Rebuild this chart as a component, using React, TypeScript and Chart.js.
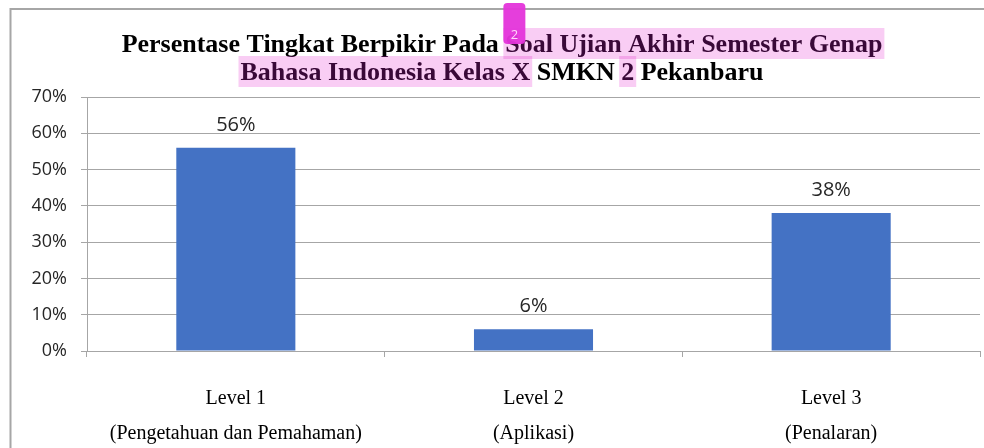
import React, { useEffect, useRef } from "react";
import { Chart, registerables } from "chart.js";

Chart.register(...registerables);

const titleLines = [
  "Persentase Tingkat Berpikir Pada Soal Ujian Akhir Semester Genap",
  "Bahasa Indonesia Kelas X SMKN 2 Pekanbaru",
];
const levels = ["Level 1", "Level 2", "Level 3"];
const levelNames = ["(Pengetahuan dan Pemahaman)", "(Aplikasi)", "(Penalaran)"];
const percentages = [56, 6, 38];
const yMin = 0;
const yMax = 70;
const yStep = 10;
const highlightLines = [0, 1, 1];
const highlightBefore = ["Persentase Tingkat Berpikir Pada ", "", "Bahasa Indonesia Kelas X SMKN "];
const highlightText = ["Soal Ujian Akhir Semester Genap", "Bahasa Indonesia Kelas X", "2"];
const noteMark = "2";

const TITLE_FAMILY = "'Liberation Serif', 'Times New Roman', serif";
const TITLE_SIZE = 26;
const TITLE_LH = 28;
const TITLE_PAD_TOP = 31;
const TITLE_FONT = `bold ${TITLE_SIZE}px ${TITLE_FAMILY}`;
const SANS = "'Open Sans', 'Noto Sans', sans-serif";

function highlightRects(chart: any) {
  const ctx = chart.ctx;
  const tb = chart.titleBlock;
  const cx = (tb.left + tb.right) / 2;
  ctx.save();
  ctx.font = TITLE_FONT;
  const rects: number[][] = [];
  for (let i = 0; i < highlightText.length; i++) {
    const line = titleLines[highlightLines[i]];
    const lineW = ctx.measureText(line).width;
    const x0 = cx - lineW / 2 + ctx.measureText(highlightBefore[i]).width;
    const w = ctx.measureText(highlightText[i]).width;
    const cy = tb.top + TITLE_PAD_TOP + TITLE_LH / 2 + highlightLines[i] * TITLE_LH;
    rects.push([x0 - 2, cy - 17, w + 4, 31]);
  }
  ctx.restore();
  return rects;
}

const decorPlugin = {
  id: "decor",
  beforeDraw(chart: any) {
    const ctx = chart.ctx;
    ctx.save();
    ctx.fillStyle = "#ffffff";
    ctx.fillRect(0, 0, chart.width, chart.height);
    ctx.restore();
  },
  afterDraw(chart: any) {
    const ctx = chart.ctx;
    const rects = highlightRects(chart);
    ctx.save();
    // keep the right margin clear
    ctx.fillStyle = "#ffffff";
    ctx.fillRect(chart.chartArea.right + 1, 0, chart.width - chart.chartArea.right - 1, chart.height);
    // outer frame (top and left)
    ctx.strokeStyle = "#a6a6a6";
    ctx.lineWidth = 2;
    ctx.beginPath();
    ctx.moveTo(9.5, 9);
    ctx.lineTo(chart.width, 9);
    ctx.moveTo(10.5, 9);
    ctx.lineTo(10.5, chart.height);
    ctx.stroke();
    // tint the highlighted title text purple, then lay the pink highlight over it
    ctx.globalCompositeOperation = "screen";
    ctx.fillStyle = "#3a0a3a";
    rects.forEach((r) => ctx.fillRect(r[0], r[1], r[2], r[3]));
    ctx.globalCompositeOperation = "multiply";
    ctx.fillStyle = "#f9cdf4";
    rects.forEach((r) => ctx.fillRect(r[0], r[1], r[2], r[3]));
    ctx.globalCompositeOperation = "source-over";
    // comment marker
    const x0 = rects[0][0];
    const y0 = 3;
    const w = 22;
    const h = 41;
    const r = 4;
    ctx.fillStyle = "rgba(228, 52, 218, 0.95)";
    ctx.beginPath();
    ctx.moveTo(x0 + r, y0);
    ctx.lineTo(x0 + w - r, y0);
    ctx.quadraticCurveTo(x0 + w, y0, x0 + w, y0 + r);
    ctx.lineTo(x0 + w, y0 + h - r);
    ctx.quadraticCurveTo(x0 + w, y0 + h, x0 + w - r, y0 + h);
    ctx.lineTo(x0 + r, y0 + h);
    ctx.quadraticCurveTo(x0, y0 + h, x0, y0 + h - r);
    ctx.lineTo(x0, y0 + r);
    ctx.quadraticCurveTo(x0, y0, x0 + r, y0);
    ctx.fill();
    ctx.fillStyle = "#ffd6fb";
    ctx.font = `13px ${SANS}`;
    ctx.textAlign = "center";
    ctx.textBaseline = "middle";
    ctx.fillText(noteMark, x0 + w / 2, 35);
    ctx.restore();
  },
};

const valueLabelPlugin = {
  id: "valueLabels",
  afterDatasetsDraw(chart: any) {
    const ctx = chart.ctx;
    const meta = chart.getDatasetMeta(0);
    ctx.save();
    ctx.font = `20px ${SANS}`;
    ctx.fillStyle = "#262626";
    ctx.textAlign = "center";
    ctx.textBaseline = "alphabetic";
    meta.data.forEach((bar: any, i: number) => {
      const v = chart.data.datasets[0].data[i];
      ctx.fillText(`${v}%`, bar.x, bar.y - 17);
    });
    ctx.restore();
  },
};

export default function App() {
  const canvasRef = useRef<HTMLCanvasElement | null>(null);

  useEffect(() => {
    const canvas = canvasRef.current;
    if (!canvas) return;
    const labels = levels.map((l, i) => [l, levelNames[i]]);
    const chart = new Chart(canvas, {
      type: "bar",
      data: {
        labels,
        datasets: [
          {
            data: percentages,
            backgroundColor: "#4472c4",
            borderWidth: 0,
            categoryPercentage: 1,
            barPercentage: 0.4,
          },
        ],
      },
      options: {
        responsive: false,
        animation: false,
        devicePixelRatio: 1,
        layout: { padding: { left: 24, right: 4, top: 0, bottom: 0 } },
        plugins: {
          legend: { display: false },
          tooltip: { enabled: false },
          title: {
            display: true,
            text: titleLines,
            color: "#000000",
            font: { family: TITLE_FAMILY, size: TITLE_SIZE, weight: "bold", lineHeight: TITLE_LH / TITLE_SIZE },
            padding: { top: TITLE_PAD_TOP, bottom: 10 },
          },
        },
        scales: {
          x: {
            offset: true,
            grid: {
              display: true,
              drawOnChartArea: false,
              drawTicks: true,
              tickLength: 6,
              color: "#a6a6a6",
              offset: true,
            },
            border: { display: true, color: "#a6a6a6" },
            ticks: {
              color: "#000000",
              padding: 24,
              font: { family: TITLE_FAMILY, size: 20, lineHeight: 1.75 },
              maxRotation: 0,
              autoSkip: false,
            },
            afterFit(scale: any) {
              scale.height = 97;
            },
          },
          y: {
            min: yMin,
            max: yMax,
            grid: {
              color: "#a6a6a6",
              drawTicks: true,
              tickLength: 6,
            },
            border: { display: true, color: "#a6a6a6" },
            ticks: {
              stepSize: yStep,
              color: "#262626",
              padding: 14,
              font: { family: SANS, size: 18 },
              callback: (v: any) => `${v}%`,
            },
            afterFit(scale: any) {
              scale.width = 63;
            },
          },
        },
      },
      plugins: [decorPlugin, valueLabelPlugin],
    });
    return () => chart.destroy();
  }, []);

  return (
    <div style={{ position: "fixed", left: 0, top: 0, width: 984, height: 448, background: "#fff" }}>
      <canvas ref={canvasRef} width={984} height={448} style={{ display: "block", width: 984, height: 448 }} />
    </div>
  );
}
